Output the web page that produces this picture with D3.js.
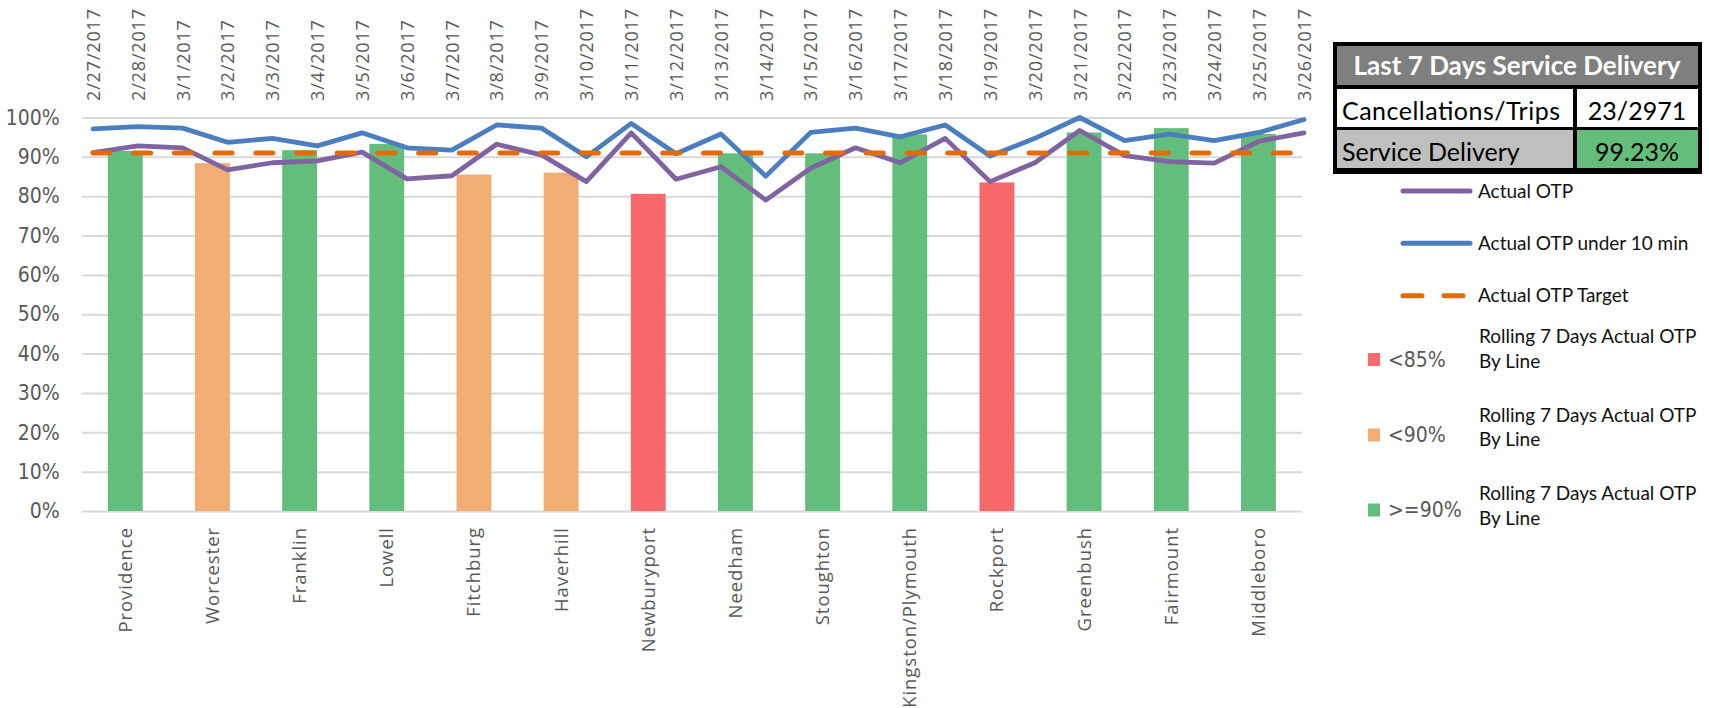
<!DOCTYPE html>
<html>
<head>
<meta charset="utf-8">
<script src="https://cdn.jsdelivr.net/npm/d3@7"></script>
<style>
  html, body { margin: 0; padding: 0; background: #fff; }
  svg { display: block; }
  .cat text { font-family: "Open Sans", sans-serif; font-size: 18.5px; fill: #595959; letter-spacing: 0.95px; }
  .date text { font-family: "Open Sans", sans-serif; font-size: 18px; fill: #595959; letter-spacing: 0.85px; }
  .ytick text { font-family: "Liberation Sans Narrow", "DejaVu Sans Condensed", "Liberation Sans", sans-serif; font-stretch: condensed; font-size: 21px; fill: #595959; }
  .tbl { font-family: Lato, "Open Sans", sans-serif; }
  .leg { font-family: Lato, "Open Sans", sans-serif; font-size: 19px; fill: #111; }
  .legpct { font-family: "Liberation Sans Narrow", "DejaVu Sans Condensed", "Liberation Sans", sans-serif; font-stretch: condensed; font-size: 21px; fill: #595959; }
</style>
</head>
<body>
<svg id="chart" width="1709" height="708"></svg>
<script>
// Daily on-time performance, 2/27/2017 - 3/26/2017 (percent)
const dates = ["2/27/2017","2/28/2017","3/1/2017","3/2/2017","3/3/2017","3/4/2017","3/5/2017",
  "3/6/2017","3/7/2017","3/8/2017","3/9/2017","3/10/2017","3/11/2017","3/12/2017",
  "3/13/2017","3/14/2017","3/15/2017","3/16/2017","3/17/2017","3/18/2017","3/19/2017",
  "3/20/2017","3/21/2017","3/22/2017","3/23/2017","3/24/2017","3/25/2017","3/26/2017"];
const otpUnder10 = [97.1,97.7,97.3,93.7,94.7,92.8,96.1,92.3,91.7,98.1,97.3,90.0,98.5,90.8,
  95.8,85.1,96.2,97.3,95.1,98.1,90.2,94.7,100.0,94.1,95.8,94.1,96.2,99.5];
const actualOtp = [91.1,92.8,92.3,86.7,88.5,89.0,91.2,84.4,85.2,93.2,90.5,83.7,96.1,84.3,
  87.5,79.0,87.1,92.3,88.5,94.7,83.7,88.5,96.7,90.3,88.8,88.4,94.0,96.1];
const otpTarget = 91;

// Rolling 7-day actual OTP by line (percent)
const lines = ["Providence","Worcester","Franklin","Lowell","Fitchburg","Haverhill","Newburyport",
  "Needham","Stoughton","Kingston/Plymouth","Rockport","Greenbush","Fairmount","Middleboro"];
const rolling7 = [91.5,88.4,91.7,93.3,85.5,86.0,80.6,90.9,90.9,95.7,83.5,96.2,97.3,95.8];

const yTicks = [0,10,20,30,40,50,60,70,80,90,100];

// Last 7 days service delivery summary
const cancellations = 23;
const trips = 2971;
const serviceDelivery = "99.23%";

const colors = {
  red: "#F8696B", orange: "#F2AD72", green: "#63BE7B",
  otp: "#8064A2", otp10: "#4A7EBF", target: "#E36C0A",
  grid: "#D9D9D9"
};
const bandColor = v => v < 85 ? colors.red : v < 90 ? colors.orange : colors.green;

const svg = d3.select("#chart");
const plot = { left: 81.7, right: 1302, top: 117.5, bottom: 511 };

const y = d3.scaleLinear().domain([0, 100]).range([plot.bottom, plot.top]);
const xLine = d3.scaleBand().domain(lines).range([plot.left, plot.right])
  .paddingInner(0.6).paddingOuter(0.3);
const xDate = d3.scalePoint().domain(dates).range([93, 1304]);

// gridlines + y labels
const yAxis = svg.append("g").attr("class", "ytick")
  .attr("transform", `translate(${plot.left},0)`)
  .call(d3.axisLeft(y).tickValues(yTicks).tickFormat(d => d + "%")
    .tickSize(-(plot.right - plot.left)).tickPadding(22));
yAxis.select(".domain").remove();
yAxis.selectAll("line").attr("stroke", colors.grid).attr("stroke-width", 2);

// bars
svg.append("g").selectAll("rect").data(lines).join("rect")
  .attr("x", d => xLine(d))
  .attr("width", xLine.bandwidth())
  .attr("y", (d, i) => y(rolling7[i]))
  .attr("height", (d, i) => y(0) - y(rolling7[i]))
  .attr("fill", (d, i) => bandColor(rolling7[i]));

// bottom category labels
const xAxis = svg.append("g").attr("class", "cat")
  .attr("transform", `translate(0,${plot.bottom})`)
  .call(d3.axisBottom(xLine).tickSize(0));
xAxis.select(".domain").remove();
xAxis.selectAll("text")
  .attr("transform", "rotate(-90)")
  .attr("x", -16).attr("y", 0).attr("dy", "0.35em")
  .style("text-anchor", "end");

// top date labels
const topAxis = svg.append("g").attr("class", "date")
  .attr("transform", "translate(0,101)")
  .call(d3.axisTop(xDate).tickSize(0));
topAxis.select(".domain").remove();
topAxis.selectAll("text")
  .attr("transform", "rotate(-90)")
  .attr("x", 0).attr("y", 0).attr("dy", "0.35em")
  .style("text-anchor", "start");

// lines
const lineGen = d3.line().x((d, i) => xDate(dates[i])).y(d => y(d));
svg.append("path").datum(otpUnder10).attr("d", lineGen)
  .attr("fill", "none").attr("stroke", colors.otp10).attr("stroke-width", 4.8)
  .attr("stroke-linejoin", "round").attr("stroke-linecap", "round");
svg.append("path").datum(actualOtp).attr("d", lineGen)
  .attr("fill", "none").attr("stroke", colors.otp).attr("stroke-width", 4.8)
  .attr("stroke-linejoin", "round").attr("stroke-linecap", "round");
svg.append("path").datum(dates.map(() => otpTarget)).attr("d", lineGen)
  .attr("fill", "none").attr("stroke", colors.target).attr("stroke-width", 5)
  .attr("stroke-linecap", "round").attr("stroke-dasharray", "17,23.7");

// summary table
const tbl = svg.append("g").attr("class", "tbl");
tbl.append("rect").attr("x", 1333).attr("y", 42).attr("width", 369).attr("height", 132).attr("fill", "#000");
tbl.append("rect").attr("x", 1337).attr("y", 46).attr("width", 361).attr("height", 39).attr("fill", "#7F7F7F");
tbl.append("rect").attr("x", 1337).attr("y", 89).attr("width", 236).attr("height", 38).attr("fill", "#fff");
tbl.append("rect").attr("x", 1577).attr("y", 89).attr("width", 121).attr("height", 38).attr("fill", "#fff");
tbl.append("rect").attr("x", 1337).attr("y", 130).attr("width", 236).attr("height", 38).attr("fill", "#BFBFBF");
tbl.append("rect").attr("x", 1577).attr("y", 130).attr("width", 121).attr("height", 38).attr("fill", colors.green);
tbl.append("text").attr("x", 1517).attr("y", 74.5).attr("text-anchor", "middle")
  .attr("font-size", 26).attr("font-weight", "bold").attr("fill", "#fff")
  .text("Last 7 Days Service Delivery");
tbl.append("text").attr("x", 1342).attr("y", 120).attr("font-size", 25).attr("fill", "#000")
  .attr("textLength", 218).attr("lengthAdjust", "spacing").text("Cancellations/Trips");
tbl.append("text").attr("x", 1637).attr("y", 120).attr("text-anchor", "middle").attr("font-size", 25).attr("fill", "#000")
  .text(`${cancellations}/${trips}`);
tbl.append("text").attr("x", 1342).attr("y", 160.5).attr("font-size", 25).attr("fill", "#000")
  .text("Service Delivery");
tbl.append("text").attr("x", 1637).attr("y", 160.5).attr("text-anchor", "middle").attr("font-size", 25).attr("fill", "#000")
  .text(serviceDelivery);

// legend
const leg = svg.append("g");
const legLines = [
  { label: "Actual OTP", color: colors.otp, yy: 191, dash: null },
  { label: "Actual OTP under 10 min", color: colors.otp10, yy: 243.3, dash: null },
  { label: "Actual OTP Target", color: colors.target, yy: 295.7, dash: "19,22" }
];
legLines.forEach(l => {
  leg.append("line").attr("x1", 1403).attr("x2", 1470).attr("y1", l.yy).attr("y2", l.yy)
    .attr("stroke", l.color).attr("stroke-width", 5).attr("stroke-linecap", "round")
    .attr("stroke-dasharray", l.dash);
  leg.append("text").attr("class", "leg").attr("x", 1478).attr("y", l.yy).attr("dy", "0.35em").text(l.label);
});
const legBars = [
  { label: "<85%", color: colors.red, yy: 359.5, l1: 336.7, l2: 361.7 },
  { label: "<90%", color: colors.orange, yy: 435, l1: 415, l2: 439.3 },
  { label: ">=90%", color: colors.green, yy: 510, l1: 493.3, l2: 518.3 }
];
legBars.forEach(b => {
  leg.append("rect").attr("x", 1368).attr("y", b.yy - 6.5).attr("width", 12).attr("height", 13).attr("fill", b.color);
  leg.append("text").attr("class", "legpct").attr("x", 1388).attr("y", b.yy).attr("dy", "0.35em").text(b.label);
  leg.append("text").attr("class", "leg").attr("x", 1479).attr("y", b.l1).attr("dy", "0.35em").text("Rolling 7 Days Actual OTP");
  leg.append("text").attr("class", "leg").attr("x", 1479).attr("y", b.l2).attr("dy", "0.35em").text("By Line");
});
</script>
</body>
</html>
